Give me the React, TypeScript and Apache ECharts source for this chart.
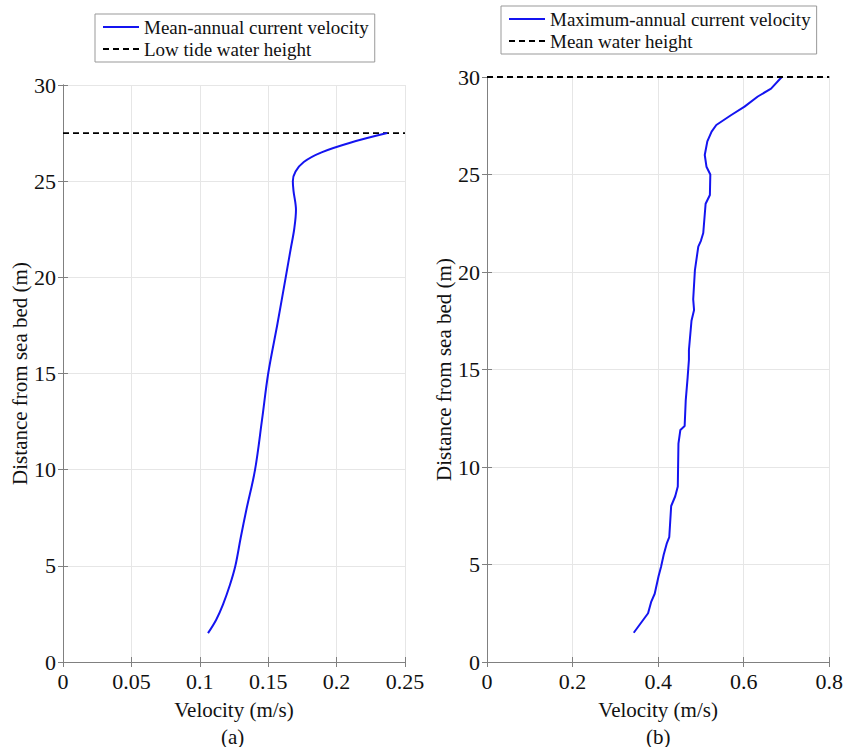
import React, { useEffect, useRef } from "react";
import * as echarts from "echarts";

// Panel (a): mean-annual current velocity profile
const meanVelocity = [0.106, 0.112, 0.117, 0.122, 0.126, 0.130, 0.134, 0.1404, 0.1455, 0.150, 0.1568, 0.1628, 0.1665, 0.169, 0.1703, 0.1685, 0.168, 0.170, 0.176, 0.189, 0.210, 0.237];
const meanHeight = [1.5, 2.2, 3.0, 4.0, 5.0, 6.5, 7.9, 10.0, 12.6, 15.0, 17.6, 20.0, 21.5, 22.5, 23.5, 24.5, 25.0, 25.5, 26.0, 26.5, 27.0, 27.5];
const lowTideHeight = 27.5;

// Panel (b): maximum-annual current velocity profile
const maxVelocity = [0.343, 0.3765, 0.384, 0.392, 0.401, 0.407, 0.413, 0.4205, 0.426, 0.4305, 0.440, 0.446, 0.4475, 0.452, 0.462, 0.4645, 0.469, 0.472, 0.472, 0.478, 0.484, 0.482, 0.486, 0.4939, 0.500, 0.5055, 0.511, 0.521, 0.522, 0.513, 0.509, 0.515, 0.525, 0.536, 0.571, 0.602, 0.633, 0.664, 0.689];
const maxHeight = [1.5, 2.5, 3.1, 3.5, 4.4, 4.9, 5.5, 6.1, 6.4, 8.0, 8.5, 9.0, 11.2, 11.9, 12.1, 13.4, 14.6, 15.5, 16.0, 17.5, 18.05, 18.6, 20.1, 21.3, 21.6, 22.0, 23.5, 23.95, 25.0, 25.4, 26.0, 26.7, 27.2, 27.54, 28.05, 28.48, 29.0, 29.4, 30.0];
const meanWaterHeight = 30;

const leftXTicks = { min: 0, max: 0.25, interval: 0.05 };
const rightXTicks = { min: 0, max: 0.8, interval: 0.2 };
const yTicks = { min: 0, max: 30, interval: 5 };

const seriesNames = [
  "Mean-annual current velocity",
  "Low tide water height",
  "Maximum-annual current velocity",
  "Mean water height",
];
const panelLabels = ["(a)", "(b)"];
const xAxisTitle = "Velocity (m/s)";
const yAxisTitle = "Distance from sea bed (m)";

const FONT = "Liberation Serif";
const AXIS_COLOR = "#808080";
const GRID_COLOR = "#e6e6e6";
const TICK_SIZE = 22;
const NAME_SIZE = 21;

function zip(a: number[], b: number[]) {
  return a.map((v, i) => [v, b[i]]);
}

function mainX(grid: number, t: { min: number; max: number; interval: number }) {
  return {
    type: "value",
    gridIndex: grid,
    position: "bottom",
    min: t.min,
    max: t.max,
    interval: t.interval,
    name: xAxisTitle,
    nameLocation: "middle",
    nameGap: 37,
    nameTextStyle: { fontFamily: FONT, fontSize: NAME_SIZE, color: "#111" },
    axisLine: { show: true, lineStyle: { color: AXIS_COLOR, width: 1 } },
    axisTick: { show: true, inside: true, length: 5, lineStyle: { color: AXIS_COLOR } },
    axisLabel: { fontFamily: FONT, fontSize: TICK_SIZE, color: "#111", margin: 8 },
    splitLine: { show: true, lineStyle: { color: GRID_COLOR, width: 1 } },
  };
}
function topX(grid: number, t: { min: number; max: number; interval: number }) {
  return {
    type: "value",
    gridIndex: grid,
    position: "top",
    min: t.min,
    max: t.max,
    interval: t.interval,
    axisLine: { show: true, lineStyle: { color: AXIS_COLOR, width: 1 } },
    axisTick: { show: true, inside: true, length: 5, lineStyle: { color: AXIS_COLOR } },
    axisLabel: { show: false },
    splitLine: { show: false },
  };
}
function mainY(grid: number) {
  return {
    type: "value",
    gridIndex: grid,
    position: "left",
    min: yTicks.min,
    max: yTicks.max,
    interval: yTicks.interval,
    name: yAxisTitle,
    nameLocation: "middle",
    nameGap: 32,
    nameTextStyle: { fontFamily: FONT, fontSize: NAME_SIZE, color: "#111" },
    axisLine: { show: true, lineStyle: { color: AXIS_COLOR, width: 1 } },
    axisTick: { show: true, inside: true, length: 5, lineStyle: { color: AXIS_COLOR } },
    axisLabel: { fontFamily: FONT, fontSize: TICK_SIZE, color: "#111", margin: 7 },
    splitLine: { show: true, lineStyle: { color: GRID_COLOR, width: 1 } },
  };
}
function rightY(grid: number) {
  return {
    type: "value",
    gridIndex: grid,
    position: "right",
    min: yTicks.min,
    max: yTicks.max,
    interval: yTicks.interval,
    axisLine: { show: true, lineStyle: { color: AXIS_COLOR, width: 1 } },
    axisTick: { show: true, inside: true, length: 5, lineStyle: { color: AXIS_COLOR } },
    axisLabel: { show: false },
    splitLine: { show: false },
  };
}

function legendCfg(left: number, top: number, names: string[]) {
  return {
    show: true,
    orient: "vertical",
    left,
    top,
    data: names,
    itemWidth: 36,
    itemHeight: 14,
    itemGap: 2,
    padding: [3, 6, 3, 7],
    borderColor: "#999",
    borderWidth: 1,
    borderRadius: 0,
    backgroundColor: "#fff",
    selectedMode: false,
    itemStyle: { opacity: 0 },
    textStyle: { fontFamily: FONT, fontSize: 19, color: "#111", lineHeight: 20 },
  };
}

export default function App() {
  const ref = useRef<HTMLDivElement>(null);
  useEffect(() => {
    if (!ref.current) return;
    const chart = echarts.init(ref.current, null, { renderer: "svg" });
    const blue = "#1414f0";
    const option = {
      animation: false,
      backgroundColor: "#fff",
      textStyle: { fontFamily: FONT },
      grid: [
        { left: 63, top: 85, width: 342, height: 577, containLabel: false },
        { left: 487, top: 77, width: 345, height: 585, containLabel: false },
      ],
      xAxis: [mainX(0, leftXTicks), topX(0, leftXTicks), mainX(1, rightXTicks), topX(1, rightXTicks)],
      yAxis: [mainY(0), rightY(0), mainY(1), rightY(1)],
      legend: [
        legendCfg(95, 14, [seriesNames[0], seriesNames[1]]),
        legendCfg(501, 6, [seriesNames[2], seriesNames[3]]),
      ],
      series: [
        {
          name: seriesNames[0],
          type: "line",
          xAxisIndex: 0,
          yAxisIndex: 0,
          symbol: "none",
          smooth: 0.35,
          lineStyle: { color: blue, width: 2 },
          itemStyle: { color: blue },
          data: zip(meanVelocity, meanHeight),
          z: 3,
        },
        {
          name: seriesNames[1],
          type: "line",
          xAxisIndex: 0,
          yAxisIndex: 0,
          symbol: "none",
          lineStyle: { color: "#000", width: 1.8, type: [6, 4] },
          itemStyle: { color: "#000" },
          data: [[leftXTicks.min, lowTideHeight], [leftXTicks.max, lowTideHeight]],
          z: 2,
        },
        {
          name: seriesNames[2],
          type: "line",
          xAxisIndex: 2,
          yAxisIndex: 2,
          symbol: "none",
          lineStyle: { color: blue, width: 2 },
          itemStyle: { color: blue },
          data: zip(maxVelocity, maxHeight),
          z: 3,
        },
        {
          name: seriesNames[3],
          type: "line",
          xAxisIndex: 2,
          yAxisIndex: 2,
          symbol: "none",
          lineStyle: { color: "#000", width: 1.8, type: [6, 4] },
          itemStyle: { color: "#000" },
          data: [[rightXTicks.min, meanWaterHeight], [rightXTicks.max, meanWaterHeight]],
          z: 4,
        },
      ],
      graphic: [
        {
          type: "text",
          left: 234 - 13,
          top: 726,
          style: { text: panelLabels[0], fontFamily: FONT, fontSize: 21, fill: "#111" },
        },
        {
          type: "text",
          left: 659 - 13,
          top: 726,
          style: { text: panelLabels[1], fontFamily: FONT, fontSize: 21, fill: "#111" },
        },
      ],
    };
    chart.setOption(option as any);
    return () => chart.dispose();
  }, []);
  return (
    <div
      ref={ref}
      style={{ position: "absolute", left: 0, top: 0, width: 846, height: 747 }}
    />
  );
}
